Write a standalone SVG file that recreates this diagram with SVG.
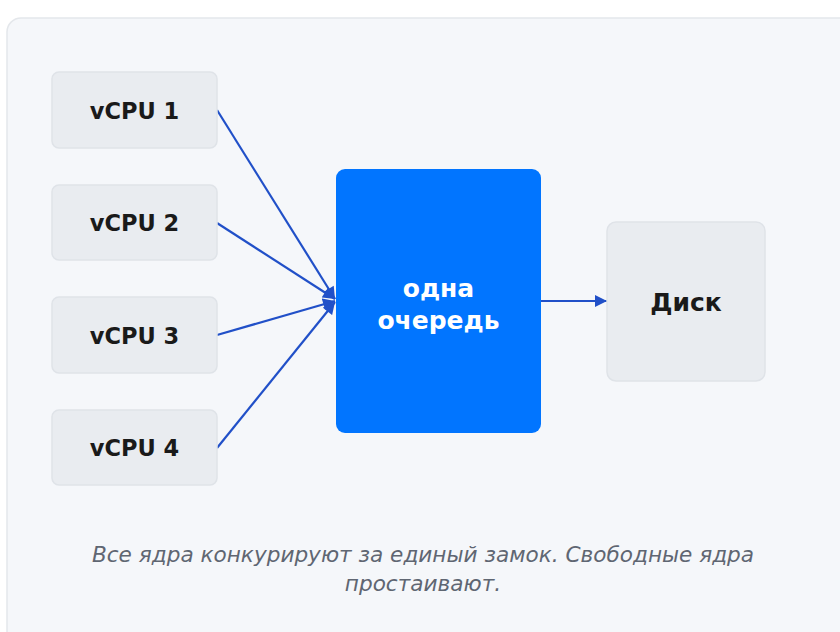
<svg xmlns="http://www.w3.org/2000/svg" width="840" height="632" viewBox="0 0 840 632">
<style>
.bg{fill:#ffffff}
.panel{fill:#f5f7fa;stroke:#e4e7eb;stroke-width:1.5}
.box{fill:#e9ecf0;stroke:#dfe3e8;stroke-width:1.5}
.lbl{font-family:"DejaVu Sans",sans-serif;font-weight:bold;font-size:22.5px;fill:#1a1a1a;text-anchor:middle}
.big{font-size:25px}
.wl{font-family:"DejaVu Sans",sans-serif;font-weight:bold;font-size:25px;fill:#ffffff;text-anchor:middle}
.cap{font-family:"DejaVu Sans",sans-serif;font-style:italic;font-size:21.6px;fill:#5f6672;text-anchor:middle}
.edge{stroke:#2150c8;stroke-width:2.2;fill:none;marker-end:url(#ah)}
</style>
<defs>
<marker id="ah" viewBox="0 0 10 10" refX="10" refY="5" markerWidth="13" markerHeight="12" markerUnits="userSpaceOnUse" orient="auto">
<path d="M0,0 L10,5 L0,10 z" fill="#2150c8"/>
</marker>
</defs>
<rect class="bg" x="0" y="0" width="840" height="632"/>
<rect class="panel" x="7" y="18" width="850" height="640" rx="14"/>
<g id="connectors">
<line class="edge" x1="217" y1="110" x2="335" y2="299"/>
<line class="edge" x1="217" y1="223" x2="335" y2="299"/>
<line class="edge" x1="217" y1="335" x2="335" y2="301"/>
<line class="edge" x1="217" y1="448" x2="335" y2="302"/>
<line class="edge" x1="541" y1="301" x2="607" y2="301"/>
</g>
<g id="vcpu1"><rect class="box" x="52" y="72" width="165" height="76" rx="7"/><text class="lbl" x="134.5" y="119">vCPU 1</text></g>
<g id="vcpu2"><rect class="box" x="52" y="185" width="165" height="75" rx="7"/><text class="lbl" x="134.5" y="231">vCPU 2</text></g>
<g id="vcpu3"><rect class="box" x="52" y="297" width="165" height="76" rx="7"/><text class="lbl" x="134.5" y="344">vCPU 3</text></g>
<g id="vcpu4"><rect class="box" x="52" y="410" width="165" height="75" rx="7"/><text class="lbl" x="134.5" y="456">vCPU 4</text></g>
<g id="queue"><rect x="336" y="169" width="205" height="264" rx="9" fill="#0175ff"/><text class="wl" x="438.5" y="297">одна</text><text class="wl" x="438.5" y="329">очередь</text></g>
<g id="disk"><rect class="box" x="607" y="222" width="158" height="159" rx="9"/><text class="lbl big" x="686" y="311">Диск</text></g>
<text class="cap" x="423" y="562">Все ядра конкурируют за единый замок. Свободные ядра</text>
<text class="cap" x="423" y="591">простаивают.</text>
</svg>
